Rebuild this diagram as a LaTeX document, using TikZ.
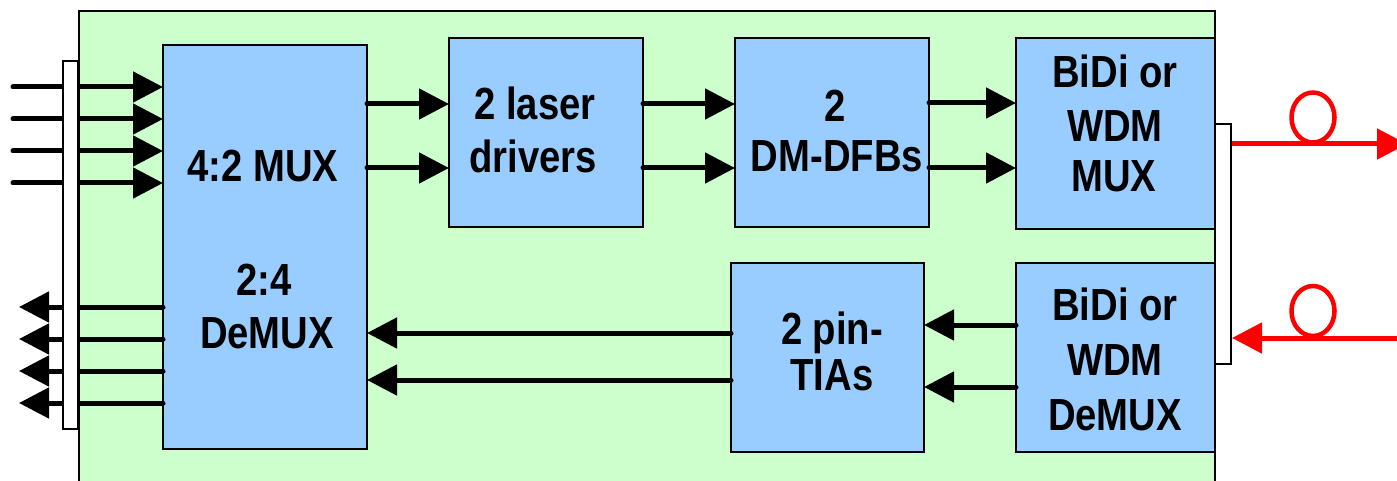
\documentclass[tikz,border=0pt]{standalone}
\usepackage{fontspec}
\newfontfamily\lab{Liberation Sans Bold}[FakeStretch=0.85]
\usetikzlibrary{arrows.meta}
\definecolor{bggreen}{HTML}{CCFFCC}
\definecolor{boxblue}{HTML}{99CCFF}
\definecolor{fibre}{HTML}{FF0000}
\tikzset{
  blockbox/.style={draw=black, line width=2pt, fill=boxblue, inner sep=0pt, outer sep=0pt},
  lbl/.style={anchor=base, inner sep=0pt, font=\lab\fontsize{45}{53}\selectfont},
  sig/.style={line width=5pt, line cap=round, -{Triangle[length=30pt,width=30pt]}},
  fib/.style={draw=fibre, line width=5pt, -{Triangle[length=30pt,width=30pt]}},
  coil/.style={draw=fibre, line width=4.5pt},
  bar/.style={draw=black, line width=2pt, fill=white, inner sep=0pt, outer sep=0pt}
}
\begin{document}
\begin{tikzpicture}[x=1pt, y=-1pt]
\useasboundingbox (0,0) rectangle (1397,481);
% module outline
\draw[line width=2pt, fill=bggreen] (79,11) rectangle (1215,500);
% blocks
\node[blockbox, minimum width=204pt, minimum height=404pt] (mux) at (265,247) {};
\node[blockbox, minimum width=194pt, minimum height=189pt] (ld) at (546,132.5) {};
\node[blockbox, minimum width=194pt, minimum height=189pt] (dfb) at (832,132.5) {};
\node[blockbox, minimum width=199pt, minimum height=191pt] (bmux) at (1115.5,133.5) {};
\node[blockbox, minimum width=193pt, minimum height=189pt] (tia) at (827.5,357.5) {};
\node[blockbox, minimum width=199pt, minimum height=189pt] (bdmx) at (1115.5,357.5) {};
% texts
\node[lbl] (t1) at (263,182) {4:2 MUX};
\node[lbl] (t2) at (264,295) {2:4};
\node[lbl] (t3) at (267,348) {DeMUX};
\node[lbl] (t4) at (535,120) {2 laser};
\node[lbl] (t5) at (533,173) {drivers};
\node[lbl] (t6) at (835,122) {2};
\node[lbl] (t7) at (837,172) {DM-DFBs};
\node[lbl] (t8) at (1115,88) {BiDi or};
\node[lbl] (t9) at (1115,142) {WDM};
\node[lbl] (t10) at (1114,192) {MUX};
\node[lbl] (t11) at (1115,320) {BiDi or};
\node[lbl] (t12) at (1115,375) {WDM};
\node[lbl] (t13) at (1115,430) {DeMUX};
\node[lbl] (t14) at (832,344) {2 pin-};
\node[lbl] (t15) at (832,390) {TIAs};
% electrical inputs / outputs
\foreach \y [count=\i] in {87,119,151,183} {
  \coordinate (in\i) at (13,\y);
  \draw[sig] (in\i) -- (mux.west |- in\i);
}
\foreach \y [count=\i] in {307,339,371,403} {
  \coordinate (out\i) at (19,\y);
  \draw[sig] (mux.west |- out\i) -- (out\i);
}
% internal links
\foreach \y in {104,168} {
  \draw[sig] (mux.east |- 0,\y) -- (ld.west |- 0,\y);
  \draw[sig] (ld.east |- 0,\y) -- (dfb.west |- 0,\y);
}
\foreach \y in {103,168} {
  \draw[sig] (dfb.east |- 0,\y) -- (bmux.west |- 0,\y);
}
\foreach \y in {325,387} {
  \draw[sig] (bdmx.west |- 0,\y) -- (tia.east |- 0,\y);
}
\foreach \y in {333,380} {
  \draw[sig] (tia.west |- 0,\y) -- (mux.east |- 0,\y);
}
% connector bars
\node[bar, minimum width=15pt, minimum height=368pt] (lbar) at (70.5,245) {};
% fibres
\coordinate (txend) at (1407,144);
\coordinate (rxstart) at (1400,338);
\draw[fib] (1229,144) -- (txend);
\draw[coil] (1313,117.5) ellipse [x radius=21.5, y radius=25];
\draw[fib] (rxstart) -- (1232,338);
\draw[coil] (1313,311) ellipse [x radius=21.5, y radius=25];
\node[bar, minimum width=16pt, minimum height=240pt] (rbar) at (1223,244) {};
\end{tikzpicture}
\end{document}
